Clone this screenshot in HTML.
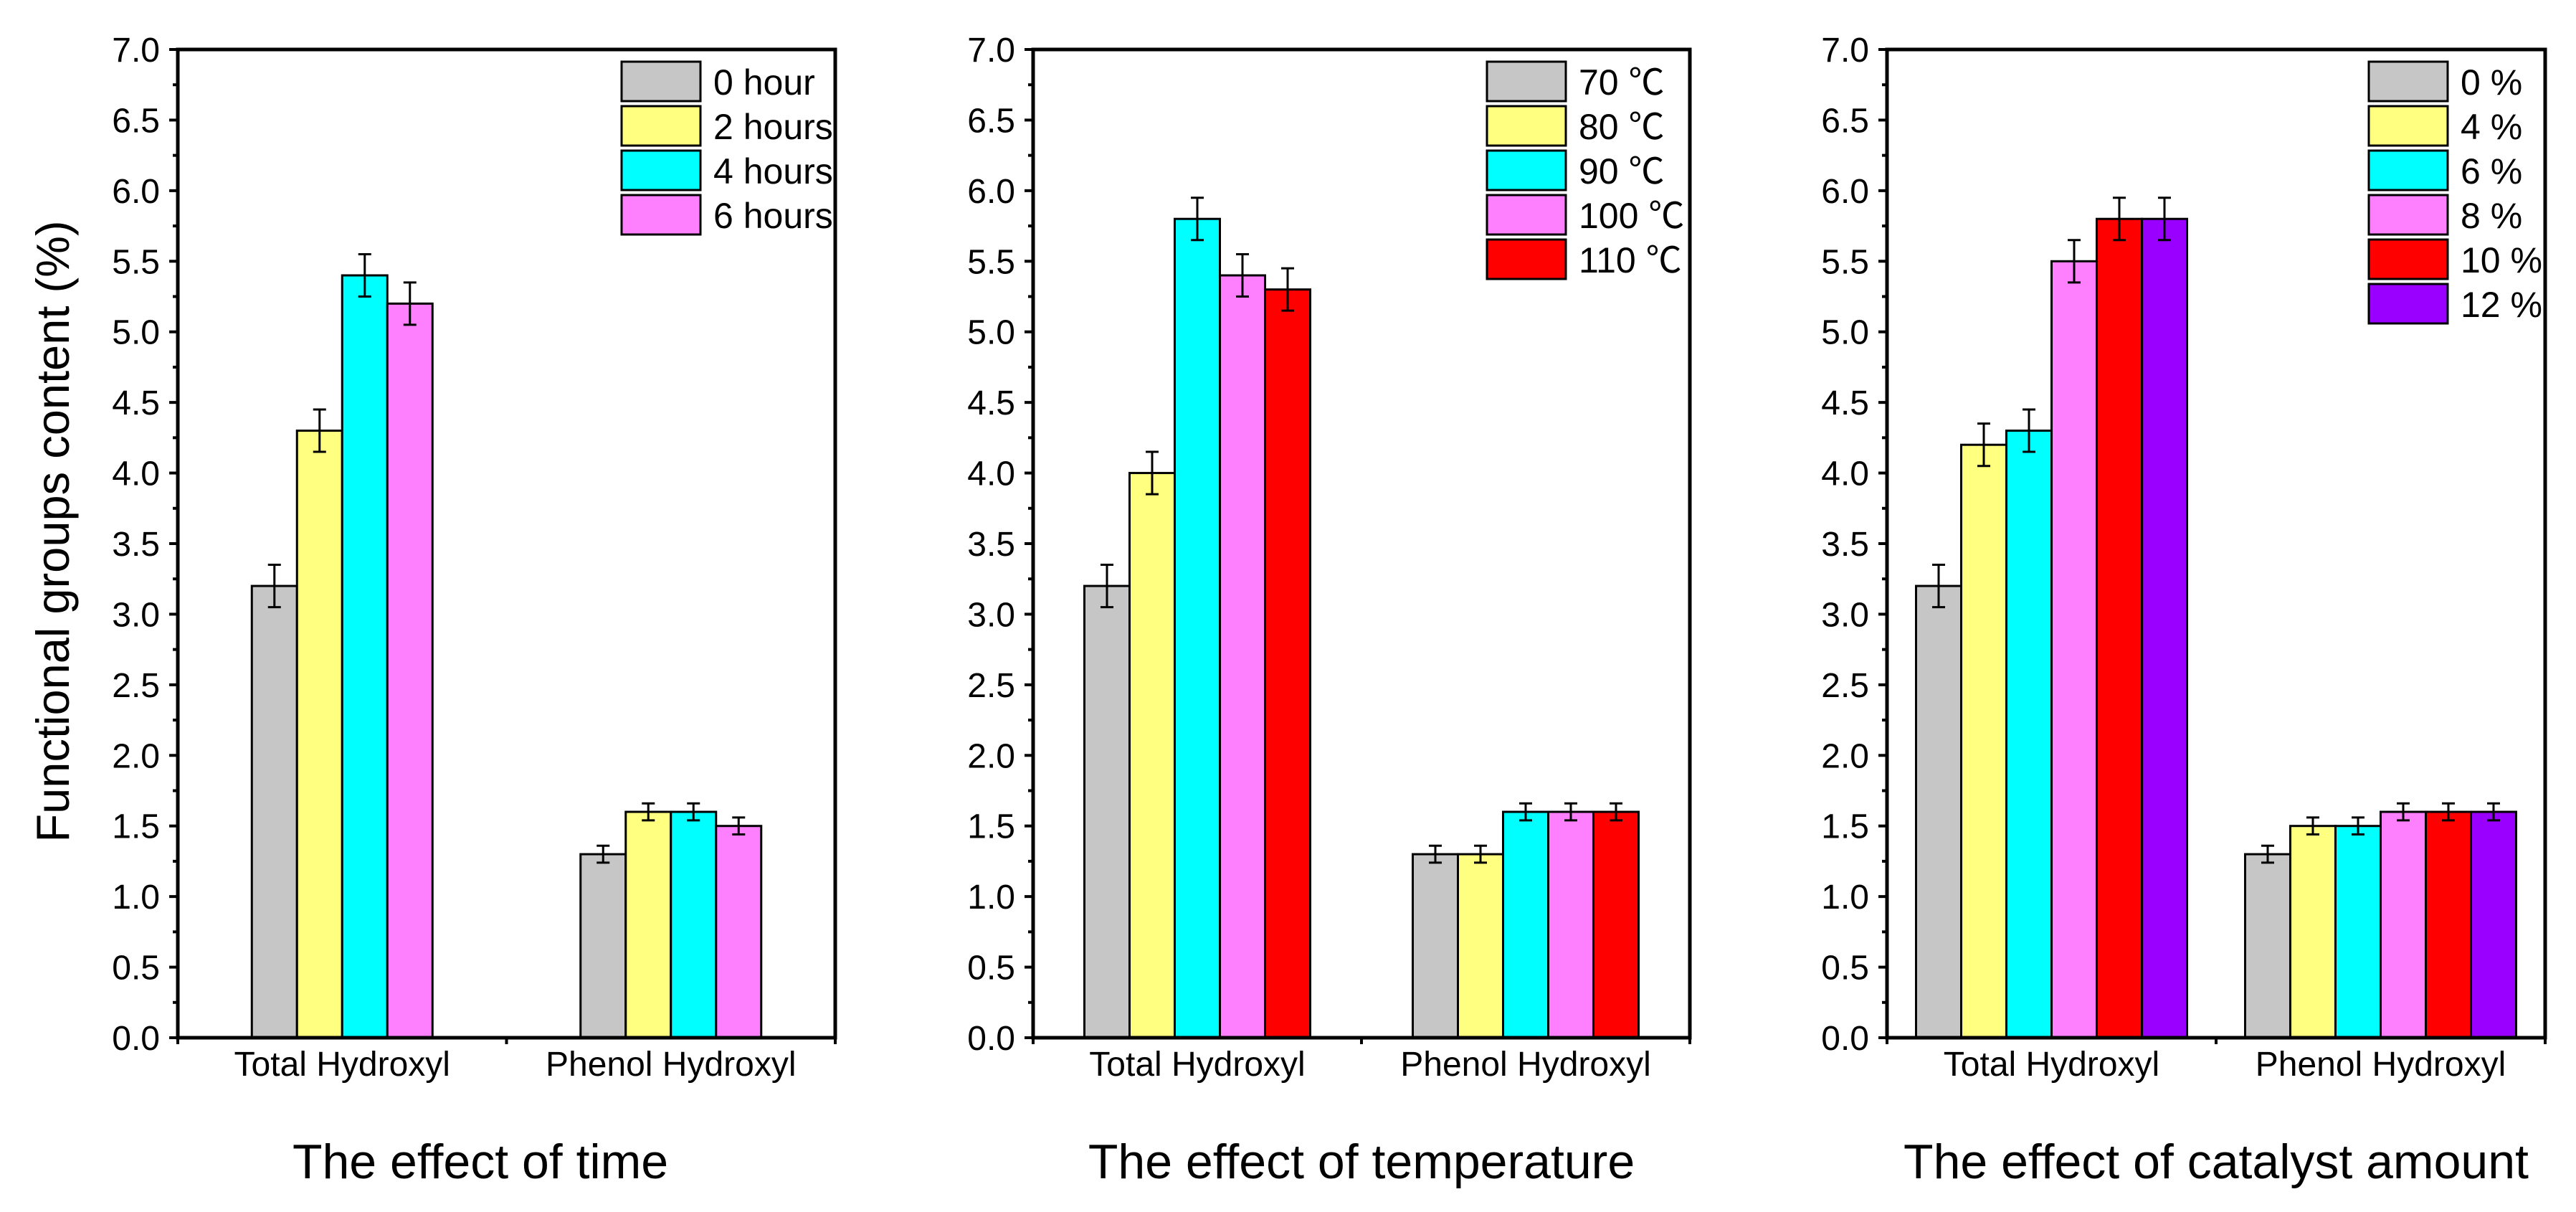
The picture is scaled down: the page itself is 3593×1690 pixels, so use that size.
<!DOCTYPE html>
<html><head><meta charset="utf-8"><style>
html,body{margin:0;padding:0;background:#fff;}
svg{display:block;font-family:"Liberation Sans","Noto Sans CJK SC",sans-serif;}
</style></head><body>
<svg id="chart" width="3593" height="1690" viewBox="0 0 3593 1690" xmlns="http://www.w3.org/2000/svg">
<rect width="3593" height="1690" fill="#fff"/>
<text x="0" y="0" font-size="65" text-anchor="middle" transform="translate(96,741) rotate(-90)">Functional groups content (%)</text>
</svg>
<script>
const categories = ["Total Hydroxyl", "Phenol Hydroxyl"];
const yTicks = [0,0.5,1,1.5,2,2.5,3,3.5,4,4.5,5,5.5,6,6.5,7];
const timeLabels = ["0 hour","2 hours","4 hours","6 hours"];
const timeTotal = [3.2,4.3,5.4,5.2];
const timePhenol = [1.3,1.6,1.6,1.5];
const tempLabels = ["70 ℃","80 ℃","90 ℃","100 ℃","110 ℃"];
const tempTotal = [3.2,4.0,5.8,5.4,5.3];
const tempPhenol = [1.3,1.3,1.6,1.6,1.6];
const catLabels = ["0 %","4 %","6 %","8 %","10 %","12 %"];
const catTotal = [3.2,4.2,4.3,5.5,5.8,5.8];
const catPhenol = [1.3,1.5,1.5,1.6,1.6,1.6];
const errTotal = 0.15;
const errPhenol = 0.06;
const titles = ["The effect of time","The effect of temperature","The effect of catalyst amount"];

const colors = ["#c6c6c6","#ffff80","#00ffff","#ff80ff","#ff0000","#9900ff"];
const NS = "http://www.w3.org/2000/svg";
const svg = document.getElementById('chart');
function mk(tag, attrs, parent){
  const e = document.createElementNS(NS, tag);
  for (const k in attrs) e.setAttribute(k, attrs[k]);
  (parent||svg).appendChild(e);
  return e;
}
const panels = [
  {x0:248, x1:1165, labels:timeLabels, total:timeTotal, phenol:timePhenol, legX:867, titleX:670},
  {x0:1441, x1:2357, labels:tempLabels, total:tempTotal, phenol:tempPhenol, legX:2074, titleX:1899},
  {x0:2632, x1:3550, labels:catLabels, total:catTotal, phenol:catPhenol, legX:3304, titleX:3091}
];
const Y0 = 1447, Y1 = 69, YMAX = 7;
function yScale(v){ return Y0 - (v / YMAX) * (Y0 - Y1); }
const BW = 63;

panels.forEach((p, pi) => {
  const g = mk('g', {});
  
  
  const xScale = ci => p.x0 + (p.x1 - p.x0) * (0.25 + 0.5 * ci);
  // bars
  [p.total, p.phenol].forEach((series, ci) => {
    const n = series.length;
    const cx = xScale(ci);
    const start = cx - n * BW / 2;
    const err = ci === 0 ? errTotal : errPhenol;
    series.forEach((v, si) => {
      const bx = start + si * BW;
      const r = mk('rect', {x:bx, y:yScale(v), width:BW, height:Y0 - yScale(v), fill:colors[si], stroke:'#000', 'stroke-width':3}, g);
      
      
      const mx = bx + BW / 2;
      const eb = mk('path', {d:`M${mx},${yScale(v+err)}V${yScale(v-err)}M${mx-9},${yScale(v+err)}H${mx+9}M${mx-9},${yScale(v-err)}H${mx+9}`, stroke:'#000', 'stroke-width':3, fill:'none'}, g);
      
      
    });
    const t = mk('text', {x:cx, y:1500, 'font-size':48, 'text-anchor':'middle'}, g);
    t.textContent = categories[ci];
    
    
  });
  // frame
  const fr = mk('rect', {x:p.x0, y:Y1, width:p.x1 - p.x0, height:Y0 - Y1, fill:'none', stroke:'#000', 'stroke-width':5}, g);
  
  
  // y ticks
  yTicks.forEach((v, i) => {
    const y = yScale(v);
    mk('line', {x1:p.x0 - 12, x2:p.x0, y1:y, y2:y, stroke:'#000', 'stroke-width':4}, g);
    if (i < yTicks.length - 1) {
      const ym = yScale(v + 0.25);
      mk('line', {x1:p.x0 - 7, x2:p.x0, y1:ym, y2:ym, stroke:'#000', 'stroke-width':4}, g);
    }
    const t = mk('text', {x:p.x0 - 25, y:y + 17, 'font-size':48, 'text-anchor':'end'}, g);
    t.textContent = v.toFixed(1);
    
    
  });
  // x ticks
  [p.x0, (p.x0 + p.x1) / 2, p.x1].forEach(x => {
    mk('line', {x1:x, x2:x, y1:Y0, y2:Y0 + 9, stroke:'#000', 'stroke-width':4}, g);
  });
  // legend
  p.labels.forEach((lab, si) => {
    const ly = 86 + si * 62;
    const lr = mk('rect', {x:p.legX, y:ly, width:110, height:55, fill:colors[si], stroke:'#000', 'stroke-width':3}, g);
    
    
    const lt = mk('text', {x:p.legX + 128, y:ly + 46, 'font-size':50}, g);
    lt.textContent = lab;
    
    
  });
  const tt = mk('text', {x:p.titleX, y:1643, 'font-size':68, 'text-anchor':'middle'}, g);
  tt.textContent = titles[pi];
  
  
});
</script>
</body></html>
